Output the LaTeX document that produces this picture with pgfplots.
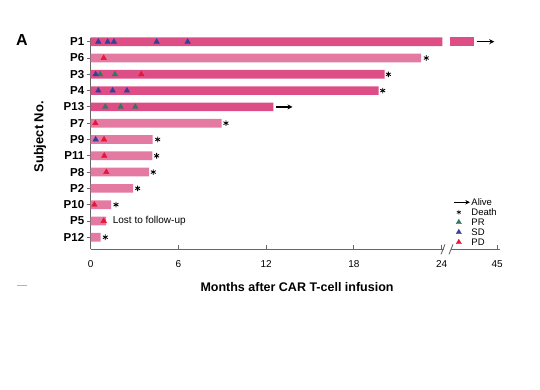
\documentclass[border=0pt]{standalone}
\usepackage{pgfplots}
\pgfplotsset{compat=1.18}
\usepackage{fontspec}
\setmainfont{Liberation Sans}
\usetikzlibrary{arrows.meta}
\definecolor{pinkdark}{HTML}{DD4E87}
\definecolor{pinklight}{HTML}{E479A2}
\definecolor{prgreen}{HTML}{2E7A5A}
\definecolor{sdblue}{HTML}{3B3D9A}
\definecolor{pdred}{HTML}{E8173A}
\definecolor{axgray}{HTML}{666666}
% x values are in display units: 0--24 months linear; beyond the axis break 24 -> 45 is compressed (45 plotted at 27.8)
\newcommand{\legtri}[1]{\path[draw=none,fill=none] (-4pt,0pt) -- (12pt,0pt); \fill[#1] (1pt,3pt) -- (-1.6pt,-1.5pt) -- (3.6pt,-1.5pt) -- cycle;}
\begin{document}
\begin{tikzpicture}
\path[use as bounding box] (0,0) rectangle (540pt,389pt);
\begin{axis}[
  at={(90.7pt,139.7pt)}, anchor=south west,
  scale only axis, width=409.4pt, height=211pt,
  xmin=0, xmax=28, ymin=-0.74, ymax=12.21,
  clip=false,
  axis lines*=left,
  axis line style={axgray, line width=0.9pt},
  xtick={0,6,12,18,24,27.8},
  xticklabels={0,6,12,18,24,45},
  ytick={0,1,2,3,4,5,6,7,8,9,10,11,12},
  yticklabels={P12,P5,P10,P2,P8,P11,P9,P7,P13,P4,P3,P6,P1},
  tick align=inside,
  major tick length=4pt,
  tick style={axgray, line width=0.8pt},
  ytick style={xshift=-4pt},
  /pgf/number format/assume math mode=true,
  xticklabel style={font=\fontsize{10}{12}\selectfont, yshift=-8pt},
  yticklabel style={font=\fontsize{11.5}{13}\selectfont\bfseries, xshift=-3pt},
  xlabel={Months after CAR T-cell infusion},
  xlabel style={font=\fontsize{12.5}{14}\selectfont\bfseries, at={(axis description cs:0.504,0)}, anchor=base, yshift=-42.4pt},
  ylabel={Subject No.},
  ylabel style={font=\fontsize{13}{15}\selectfont\bfseries, at={(axis description cs:-0.1158,0.533)}, anchor=base},
  legend style={at={(axis description cs:0.885,0.247)}, anchor=north west, draw=none, fill=none,
    font=\fontsize{9.5}{10}\selectfont, row sep=0.3pt, inner sep=0pt,
    nodes={inner sep=1pt, text height=0.72em, text depth=0.05em}},
  legend cell align=left,
]
% bars (dark)
\addplot[xbar, bar shift=0pt, bar width=8.7pt, fill=pinkdark, draw=none, forget plot]
  coordinates {(24.05,12) (20.1,10) (19.7,9) (12.5,8)};
% P1 segment after the axis break
\addplot[fill=pinkdark, draw=none, forget plot]
  coordinates {(24.6,11.733) (26.2,11.733) (26.2,12.267) (24.6,12.267)} -- cycle;
% bars (light)
\addplot[xbar, bar shift=0pt, bar width=8.7pt, fill=pinklight, draw=none, forget plot]
  coordinates {(22.6,11) (8.96,7) (4.24,6) (4.21,5) (3.99,4) (2.91,3) (1.39,2) (1.05,1) (0.68,0)};
% PR
\addplot[only marks, mark=triangle*, mark size=3.2pt, color=prgreen, forget plot]
  coordinates {(0.64,10) (1.66,10) (1.0,8) (2.05,8) (3.05,8)};
% SD
\addplot[only marks, mark=triangle*, mark size=3.2pt, color=sdblue, forget plot]
  coordinates {(0.52,12) (1.16,12) (1.59,12) (4.51,12) (6.63,12) (0.34,10) (0.52,9) (1.5,9) (2.48,9) (0.34,6)};
% PD
\addplot[only marks, mark=triangle*, mark size=3.2pt, color=pdred, forget plot]
  coordinates {(0.89,11) (3.46,10) (0.32,7) (0.91,6) (0.93,5) (1.07,4) (0.25,2) (0.89,1)};
% Death
\addplot[only marks, mark=asterisk, mark size=2.8pt, color=black, line width=0.8pt, forget plot]
  coordinates {(22.95,11) (20.36,10) (19.97,9) (9.25,7) (4.58,6) (4.51,5) (4.28,4) (3.21,3) (1.73,2) (1.0,0)};
% Alive
\addplot[black, line width=1.3pt, -{Stealth[length=5pt,width=5pt]}, forget plot]
  coordinates {(26.4,12) (27.6,12)};
\addplot[black, line width=1.3pt, -{Stealth[length=5pt,width=5pt]}, forget plot]
  coordinates {(12.67,8) (13.8,8)};
\node[anchor=mid west, inner sep=0pt, font=\fontsize{10}{12}\selectfont] at (axis cs:1.5,1) {Lost to follow-up};
% legend
\addlegendimage{legend image code/.code={\draw[black, line width=1.2pt, -{Stealth[length=4.5pt,width=4.5pt]}] (-4pt,0pt) -- (12pt,0pt);}}
\addlegendentry{Alive}
\addlegendimage{legend image code/.code={\path[draw=none,fill=none] (-4pt,0pt) -- (12pt,0pt);
  \draw[black, line width=0.6pt] (1pt,-2.3pt) -- (1pt,2.3pt) (-1pt,-1.15pt) -- (3pt,1.15pt) (-1pt,1.15pt) -- (3pt,-1.15pt);}}
\addlegendentry{Death}
\addlegendimage{legend image code/.code={\legtri{prgreen}}}
\addlegendentry{PR}
\addlegendimage{legend image code/.code={\legtri{sdblue}}}
\addlegendentry{SD}
\addlegendimage{legend image code/.code={\legtri{pdred}}}
\addlegendentry{PD}
\coordinate (brk) at (axis cs:24.37,-0.74);
\end{axis}
% axis break
\fill[white] ([xshift=-3.5pt,yshift=-1.5pt]brk) rectangle ([xshift=3.5pt,yshift=1.5pt]brk);
\draw[axgray, line width=0.9pt] ([xshift=-6pt,yshift=-5pt]brk) -- ([xshift=-2pt,yshift=5pt]brk);
\draw[axgray, line width=0.9pt] ([xshift=2pt,yshift=-5pt]brk) -- ([xshift=6pt,yshift=5pt]brk);
% panel letter and stray mark
\node[anchor=base west, inner sep=0pt, font=\fontsize{16}{18}\selectfont\bfseries] at (16pt,343pt) {A};
\draw[gray!60, line width=1pt] (17pt,104pt) -- (27pt,104pt);
\end{tikzpicture}
\end{document}
